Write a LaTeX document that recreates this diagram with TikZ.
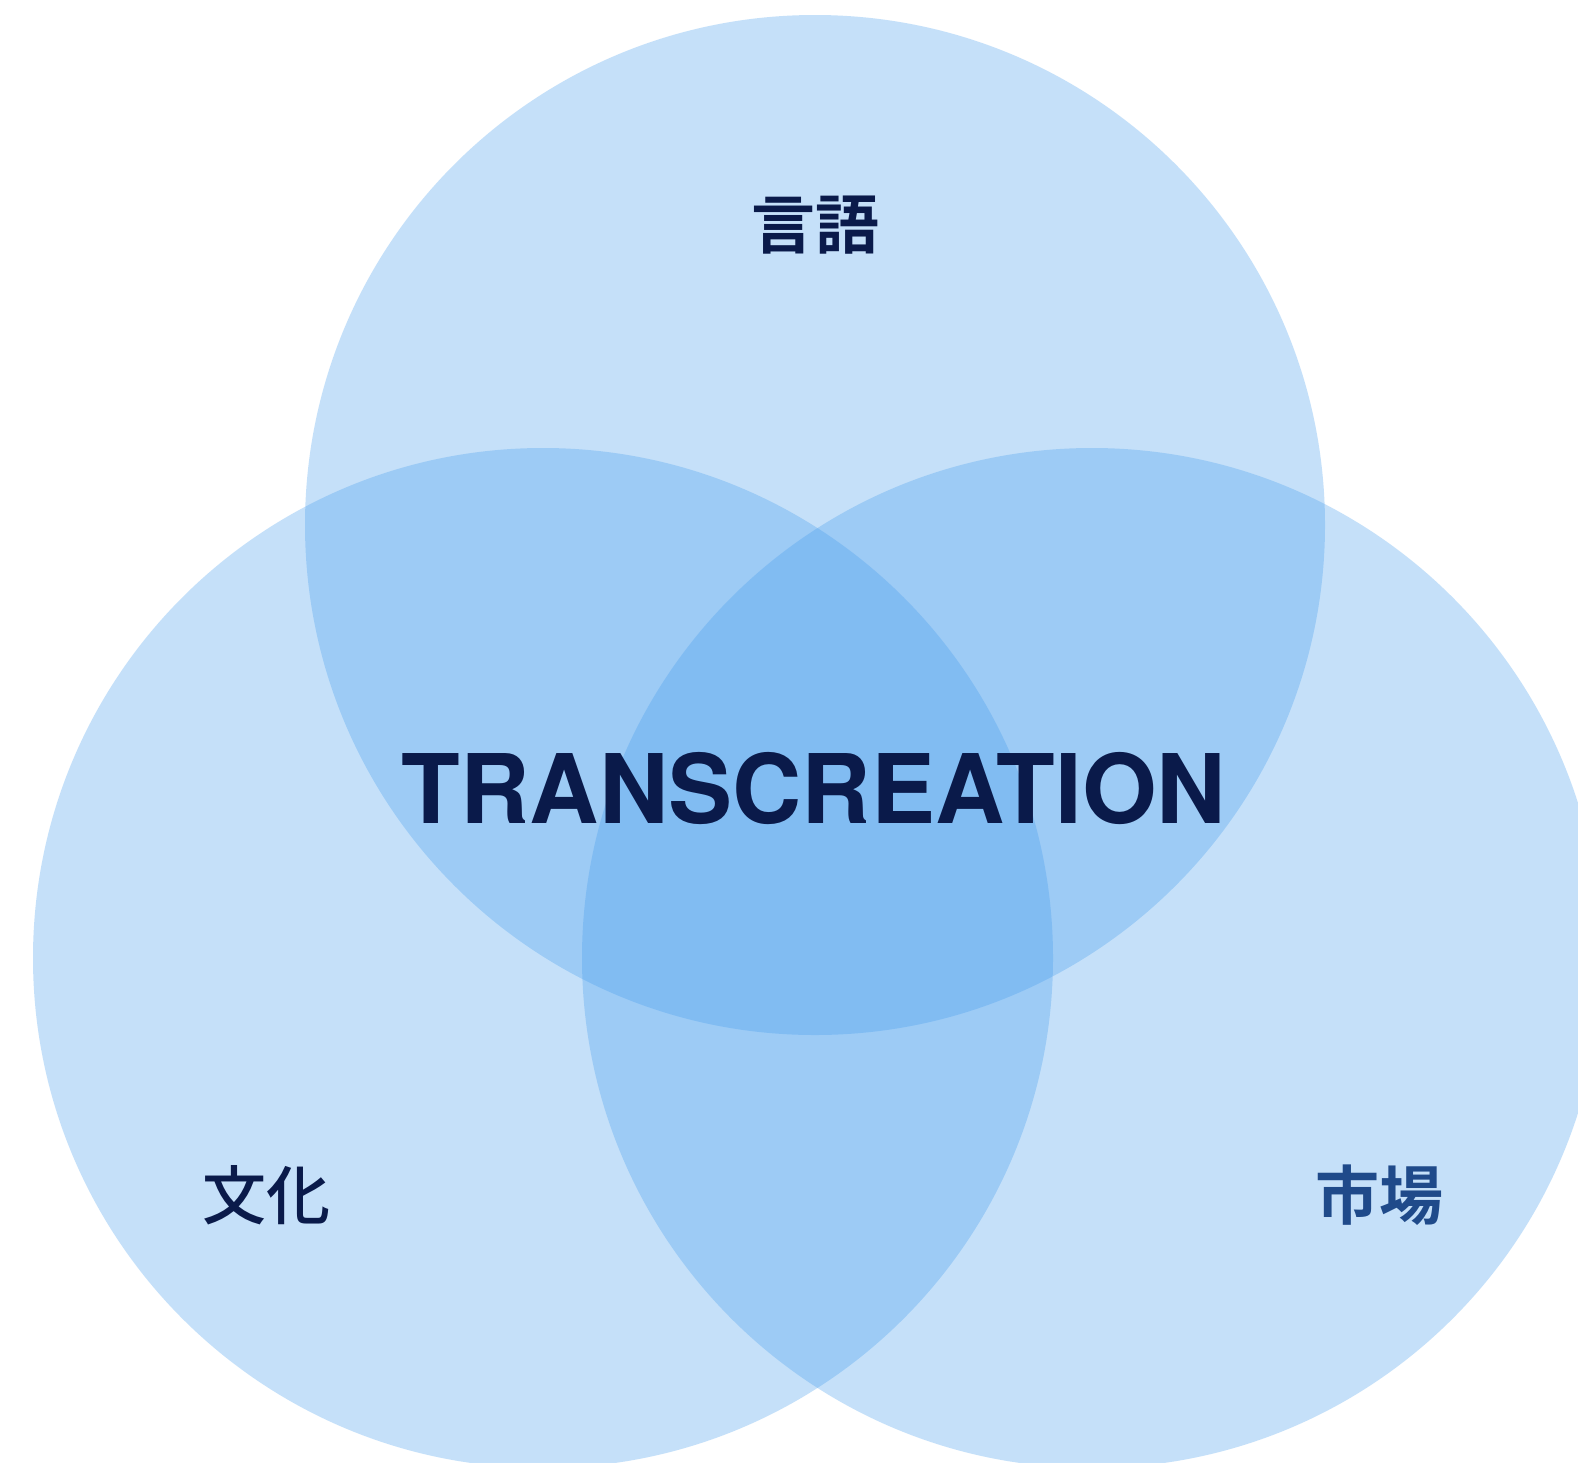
\documentclass[tikz,border=0pt]{standalone}
\usepackage{fontspec}
\setmainfont{TeX Gyre Heros}
\newfontfamily\cjk{Noto Sans CJK JP}[UprightFont={* Medium}]
\newfontfamily\cjkb{Noto Sans CJK JP}[UprightFont={* Bold}]
\definecolor{venn}{RGB}{65,155,238}
\definecolor{navy}{RGB}{10,26,74}
\definecolor{midnavy}{RGB}{31,74,138}
\begin{document}
\begin{tikzpicture}[x=1pt,y=-1pt,
  circ/.style={fill=venn,fill opacity=0.3,draw=none},
  lab/.style={inner sep=0pt,text=navy}]
\useasboundingbox[fill=white] (0,0) rectangle (1578,1462);
\begin{scope}
\clip (0,0) rectangle (1578,1462);
\fill[circ] (815,525) circle[radius=510];
\fill[circ] (543,958) circle[radius=510];
\fill[circ] (1092,958) circle[radius=510];
\end{scope}
\node[lab,font=\cjkb\fontsize{64}{64}\selectfont] (lang) at (815,225) {言語};
\node[lab,font=\cjk\fontsize{64}{64}\selectfont] (cult) at (266,1195) {文化};
\node[lab,text=midnavy,font=\cjkb\fontsize{64}{64}\selectfont] (mkt) at (1379,1195) {市場};
\node[lab,font=\bfseries\fontsize{96}{96}\selectfont] (tc) at (814,788) {TRANSCREATION};
\end{tikzpicture}
\end{document}
